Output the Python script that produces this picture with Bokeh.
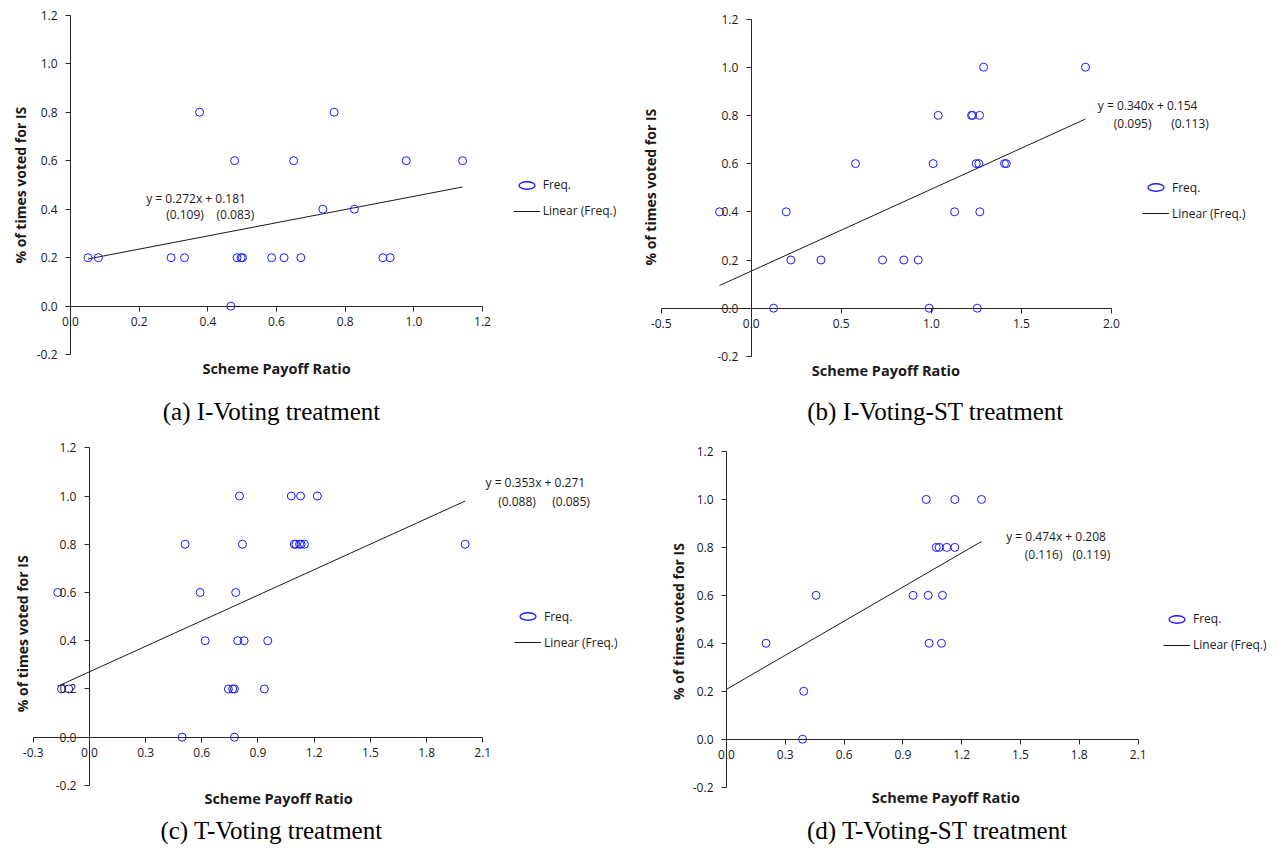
import math
import numpy as np
from bokeh.plotting import figure
from bokeh.models import (LinearAxis, FixedTicker, PrintfTickFormatter, Label,
                          Legend, LegendItem, Range1d)
from bokeh.layouts import gridplot
from bokeh.embed import file_html
from bokeh.resources import INLINE

# ---------------- DATA ----------------
# (a) I-Voting treatment
a_x = [0.376, 0.768, 0.478, 0.650, 0.978, 1.142, 0.735, 0.827,
       0.051, 0.081, 0.293, 0.332, 0.485, 0.497, 0.501, 0.586, 0.622, 0.671, 0.910, 0.931,
       0.467]
a_y = [0.8, 0.8, 0.6, 0.6, 0.6, 0.6, 0.4, 0.4,
       0.2, 0.2, 0.2, 0.2, 0.2, 0.2, 0.2, 0.2, 0.2, 0.2, 0.2, 0.2,
       0.0]
# (b) I-Voting-ST treatment
b_x = [1.290, 1.856, 1.038, 1.223, 1.229, 1.268,
       0.579, 1.010, 1.249, 1.264, 1.406, 1.416,
       -0.176, 0.194, 1.129, 1.269,
       0.220, 0.387, 0.729, 0.847, 0.927,
       0.124, 0.988, 1.255]
b_y = [1.0, 1.0, 0.8, 0.8, 0.8, 0.8,
       0.6, 0.6, 0.6, 0.6, 0.6, 0.6,
       0.4, 0.4, 0.4, 0.4,
       0.2, 0.2, 0.2, 0.2, 0.2,
       0.0, 0.0, 0.0]
# (c) T-Voting treatment
c_x = [0.801, 1.078, 1.127, 1.217,
       0.511, 0.817, 1.094, 1.102, 1.122, 1.130, 1.148, 2.006,
       -0.169, 0.591, 0.781,
       0.618, 0.792, 0.826, 0.952,
       -0.149, -0.110, 0.742, 0.765, 0.774, 0.934,
       0.495, 0.774]
c_y = [1.0, 1.0, 1.0, 1.0,
       0.8, 0.8, 0.8, 0.8, 0.8, 0.8, 0.8, 0.8,
       0.6, 0.6, 0.6,
       0.4, 0.4, 0.4, 0.4,
       0.2, 0.2, 0.2, 0.2, 0.2, 0.2,
       0.0, 0.0]
# (d) T-Voting-ST treatment
d_x = [1.019, 1.165, 1.301,
       1.070, 1.085, 1.124, 1.165,
       0.457, 0.952, 1.029, 1.102,
       0.202, 1.034, 1.097,
       0.394,
       0.388]
d_y = [1.0, 1.0, 1.0,
       0.8, 0.8, 0.8, 0.8,
       0.6, 0.6, 0.6, 0.6,
       0.4, 0.4, 0.4,
       0.2,
       0.0]

slopes = [0.272, 0.340, 0.353, 0.474]
intercepts = [0.181, 0.154, 0.271, 0.208]
slope_se = [0.109, 0.095, 0.088, 0.116]
intercept_se = [0.083, 0.113, 0.085, 0.119]
trend_start = [None, None, None, 0.0]   # (d) trendline forecast back to x = 0

captions = ["(a) I-Voting treatment", "(b) I-Voting-ST treatment",
            "(c) T-Voting treatment", "(d) T-Voting-ST treatment"]
x_title = "Scheme Payoff Ratio"
y_title = "% of times voted for IS"
legend_labels = ["Freq.", "Linear (Freq.)"]

x_ticks_a = [0.0, 0.2, 0.4, 0.6, 0.8, 1.0, 1.2]
x_ticks_b = [-0.5, 0.0, 0.5, 1.0, 1.5, 2.0]
x_ticks_c = [-0.3, 0.0, 0.3, 0.6, 0.9, 1.2, 1.5, 1.8, 2.1]
x_ticks_d = [0.0, 0.3, 0.6, 0.9, 1.2, 1.5, 1.8, 2.1]
y_ticks = [-0.2, 0.0, 0.2, 0.4, 0.6, 0.8, 1.0, 1.2]

# ---------------- LAYOUT (pixel positions in the whole picture) ----------------
LAYOUT = [
    dict(ox=0, oy=0, W=633, H=426, px0=70.0, sx=343.33, py0=305.7, sy=242.5,
         eq=(145.7, 197.7), se1=(165.7, 214.3), se2=(216.0, 214.3),
         xt=(276.0, 367.7), yt=(20.0, 184.7), cap=(271.0, 411.0), leg=(512.7, 174.5)),
    dict(ox=633, oy=0, W=634, H=426, px0=750.75, sx=180.1, py0=307.7, sy=241.0,
         eq=(1097.3, 105.0), se1=(1113.3, 123.0), se2=(1170.7, 123.0),
         xt=(885.3, 370.0), yt=(650.0, 186.7), cap=(935.0, 411.0), leg=(1142.0, 177.0)),
    dict(ox=0, oy=426, W=633, H=418, px0=88.9, sx=187.33, py0=736.7, sy=241.2,
         eq=(485.0, 482.0), se1=(497.7, 500.7), se2=(551.7, 500.7),
         xt=(278.0, 798.3), yt=(21.7, 633.3), cap=(271.0, 830.0), leg=(514.0, 606.0)),
    dict(ox=633, oy=426, W=634, H=418, px0=726.0, sx=196.0, py0=738.7, sy=239.75,
         eq=(1005.7, 535.7), se1=(1024.3, 553.7), se2=(1072.0, 553.7),
         xt=(945.3, 796.7), yt=(678.0, 621.0), cap=(937.0, 830.0), leg=(1163.0, 608.7)),
]

BLUE = "#1a1aff"
FONT = "Open Sans"


def make_panel(i, xs, ys, xticks):
    L = LAYOUT[i]
    ox, oy, W, H = L["ox"], L["oy"], L["W"], L["H"]
    px0, sx, py0, sy = L["px0"], L["sx"], L["py0"], L["sy"]

    def dx(px):
        return (px - px0) / sx

    def dy(py):
        return (py0 - py) / sy

    p = figure(width=W, height=H, output_backend="svg", toolbar_location=None,
               x_axis_type=None, y_axis_type=None,
               x_range=Range1d(dx(ox), dx(ox + W)),
               y_range=Range1d(dy(oy + H), dy(oy)),
               min_border_left=0, min_border_right=0, min_border_top=0, min_border_bottom=0,
               outline_line_color=None, background_fill_color="white",
               border_fill_color="white")

    xa = LinearAxis(fixed_location=0, bounds=(xticks[0], xticks[-1]),
                    ticker=FixedTicker(ticks=xticks), formatter=PrintfTickFormatter(format="%.1f"))
    ya = LinearAxis(fixed_location=0, bounds=(y_ticks[0], y_ticks[-1]),
                    ticker=FixedTicker(ticks=y_ticks), formatter=PrintfTickFormatter(format="%.1f"))
    for ax in (xa, ya):
        ax.axis_line_color = "#262626"
        ax.axis_line_width = 1
        ax.major_tick_line_color = "#262626"
        ax.major_tick_in = 0
        ax.major_tick_out = 5
        ax.minor_tick_line_color = None
        ax.major_label_text_font = FONT
        ax.major_label_text_font_size = "12px"
        ax.major_label_text_color = "#1a1a1a"
    xa.major_label_standoff = 6
    ya.major_label_standoff = 8
    p.add_layout(xa, "below")
    p.add_layout(ya, "left")

    # trendline
    x_lo = trend_start[i] if trend_start[i] is not None else min(xs)
    x_hi = max(xs)
    tx = np.array([x_lo, x_hi])
    ty = slopes[i] * tx + intercepts[i]
    line_r = p.line(tx, ty, line_color="#1a1a1a", line_width=1)

    # points
    p.scatter(xs, ys, marker="circle", size=8, fill_color=None,
              line_color=BLUE, line_width=1)

    # legend-only ellipse glyph (not placed on the plot)
    ell = p.ellipse(x=np.array([np.nan]), y=np.array([np.nan]), width=17, height=8,
                    width_units="screen", height_units="screen",
                    fill_color=None, line_color=BLUE, line_width=1.3)

    lx = L["leg"][0] - ox
    ly = (oy + H) - (L["leg"][1] + 46)
    legend = Legend(items=[LegendItem(label=legend_labels[0], renderers=[ell]),
                           LegendItem(label=legend_labels[1], renderers=[line_r])],
                    location=(lx, ly), orientation="vertical",
                    glyph_width=27, glyph_height=20, label_height=20, spacing=6,
                    padding=0, margin=0, label_standoff=3,
                    border_line_color=None, background_fill_alpha=0,
                    label_text_font=FONT, label_text_font_size="12px",
                    label_text_color="#1a1a1a")
    p.add_layout(legend)

    # equation
    eq_text = "y = %.3fx + %.3f" % (slopes[i], intercepts[i])
    for key, txt in (("eq", eq_text), ("se1", "(%.3f)" % slope_se[i]),
                     ("se2", "(%.3f)" % intercept_se[i])):
        p.add_layout(Label(x=dx(L[key][0]), y=dy(L[key][1]), text=txt,
                           text_font=FONT, text_font_size="12px", text_color="#1a1a1a",
                           text_align="left", text_baseline="middle"))

    # axis titles
    p.add_layout(Label(x=dx(L["xt"][0]), y=dy(L["xt"][1]), text=x_title,
                       text_font=FONT, text_font_size="14.5px", text_font_style="bold",
                       text_color="#1a1a1a", text_align="center", text_baseline="middle"))
    p.add_layout(Label(x=dx(L["yt"][0]), y=dy(L["yt"][1]), text=y_title, angle=math.pi / 2,
                       text_font=FONT, text_font_size="14px", text_font_style="bold",
                       text_color="#1a1a1a", text_align="center", text_baseline="middle"))

    # caption
    p.add_layout(Label(x=dx(L["cap"][0]), y=dy(L["cap"][1]), text=captions[i],
                       text_font="Liberation Serif", text_font_size="25px",
                       text_color="black", text_align="center", text_baseline="middle"))
    return p


pa = make_panel(0, a_x, a_y, x_ticks_a)
pb = make_panel(1, b_x, b_y, x_ticks_b)
pc = make_panel(2, c_x, c_y, x_ticks_c)
pd = make_panel(3, d_x, d_y, x_ticks_d)

grid = gridplot([[pa, pb], [pc, pd]], toolbar_location=None)

with open("out.html", "w") as f:
    f.write(file_html(grid, INLINE))
